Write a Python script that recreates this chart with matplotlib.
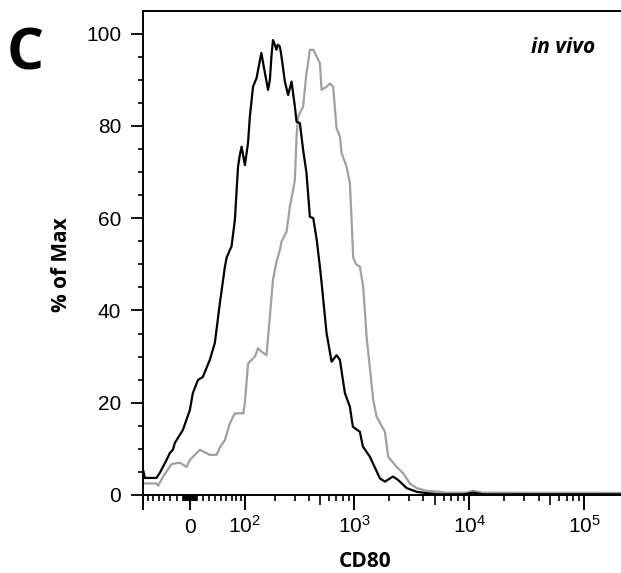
import numpy as np
import matplotlib
matplotlib.use("Agg")
import matplotlib.pyplot as plt
from matplotlib.ticker import FixedLocator

plt.rcParams['font.family'] = ['Liberation Sans', 'DejaVu Sans']
plt.rcParams['mathtext.fontset'] = 'custom'
plt.rcParams['mathtext.rm'] = 'Liberation Sans'
plt.rcParams['mathtext.it'] = 'Liberation Sans:italic'
plt.rcParams['mathtext.bf'] = 'Liberation Sans:bold'

# CD80 intensity vs % of max
cd80_black = [-80.5, -77.0, -60.1, -53.8, -47.8, -36.2, -30.8, -26.0, -22.8, -10.5,
              0.0, 4.5, 12.1, 19.7, 30.8, 39.1, 47.8, 56.9, 60.1, 66.6,
              69.9, 77.0, 84.0, 88.1, 92.2, 100.2, 108.3, 113.2, 122.1, 132.6,
              137.1, 147.7, 159.7, 171.4, 178.2, 184.3, 190.4, 198.4, 205.1, 211.6,
              220.7, 228.4, 245.1, 262.3, 281.6, 301.6, 312.1, 334.3, 357.3, 382.5,
              410.0, 438.9, 471.0, 502.1, 519.7, 574.5, 635.8, 702.5, 751.3, 830.7,
              918.5, 975.2, 1122, 1192, 1371, 1675, 1852, 2174, 2403, 2859,
              3492, 4266, 5565, 9000, 10770, 13155, 207000]
pct_black = [5.3, 3.7, 3.7, 3.7, 4.8, 7.6, 9.1, 9.8, 11.3, 14.1,
             18.4, 22.1, 24.9, 25.6, 29.3, 33.0, 41.6, 49.4, 51.4, 53.1,
             53.8, 59.6, 71.2, 73.7, 75.5, 71.5, 76.3, 82.0, 88.5, 90.4,
             92.1, 95.8, 91.5, 87.8, 90.0, 95.0, 98.6, 97.6, 96.5, 97.6,
             97.2, 95.0, 89.6, 86.7, 89.6, 84.2, 80.9, 80.6, 74.8, 69.8,
             60.3, 60.0, 55.3, 49.5, 46.0, 35.1, 28.9, 30.3, 29.3, 22.1,
             19.1, 14.8, 13.7, 10.5, 8.3, 3.6, 2.9, 4.0, 3.3, 1.5,
             0.7, 0.4, 0.15, 0.15, 0.5, 0.15, 0.15]

cd80_gray = [-80.5, -53.8, -50.8, -42.0, -28.1, -15.1, -4.95, 0.0, 15.1, 30.8,
             42.0, 47.8, 56.9, 66.6, 77.0, 96.3, 100.2, 108.3, 127.4, 137.1,
             147.7, 165.6, 178.2, 190.4, 205.1, 220.7, 228.4, 253.8, 272.0, 290.8,
             301.6, 312.1, 322.3, 357.3, 382.5, 395.0, 410.0, 438.9, 471.0, 502.1,
             519.7, 574.5, 614.4, 656.4, 702.5, 751.3, 777.4, 859.4, 918.5, 950.2,
             981.1, 1040, 1122, 1199, 1283, 1466, 1568, 1852, 1978, 2341,
             2671, 3054, 3492, 4266, 5565, 6364, 9500, 10770, 13155, 207000]
pct_gray = [2.5, 2.5, 2.0, 4.0, 6.7, 7.0, 6.1, 7.6, 9.8, 8.7,
            8.7, 10.3, 11.9, 15.5, 17.7, 17.7, 19.9, 28.5, 30.0, 31.8,
            31.1, 30.3, 38.7, 46.6, 50.5, 53.1, 54.9, 57.1, 62.5, 66.1,
            68.3, 77.7, 82.0, 84.2, 91.5, 93.6, 96.5, 96.5, 95.0, 93.6,
            87.8, 88.5, 89.2, 88.5, 79.5, 77.7, 74.1, 71.2, 67.6, 59.6,
            51.5, 50.0, 49.5, 45.2, 34.3, 20.6, 17.0, 13.7, 8.3, 6.1,
            4.7, 2.5, 1.5, 0.9, 0.7, 0.5, 0.5, 0.9, 0.5, 0.45]

x_major = [-81, 0, 100, 1000, 10000, 100000]
x_major_labels = ['', '0', '$10^{2}$', '$10^{3}$', '$10^{4}$', '$10^{5}$']
y_major = [0, 20, 40, 60, 80, 100]


# biexponential-like display (arcsinh)
def fwd(v):
    return np.arcsinh(np.asarray(v, dtype=float) / 75.0)


def inv(u):
    return 75.0 * np.sinh(np.asarray(u, dtype=float))


x_minor = []
for k in range(0, 5):
    for m in range(1, 10):
        x_minor.append(m * 10 ** k)
        if k < 2:
            x_minor.append(-m * 10 ** k)
x_minor = [t for t in x_minor if t not in x_major and not (t in (500, 5000, 50000))]
x_mid = [500, 5000, 50000]

fig = plt.figure(figsize=(6.21, 5.73), dpi=100)
ax = fig.add_axes([143 / 621, 78 / 573, 478 / 621, 484 / 573])

ax.plot(cd80_gray, pct_gray, color='#a0a0a0', lw=1.6, zorder=2)
ax.plot(cd80_black, pct_black, color='black', lw=1.6, zorder=3)

ax.set_xscale('function', functions=(fwd, inv))
ax.set_xlim(-81, 2.08e5)
ax.set_ylim(0, 104.9)

ax.xaxis.set_major_locator(FixedLocator(x_major))
ax.set_xticklabels(x_major_labels)
ax.xaxis.set_minor_locator(FixedLocator(x_minor))
ax.yaxis.set_major_locator(FixedLocator(y_major))
ax.yaxis.set_minor_locator(FixedLocator([5, 10, 15, 25, 30, 35, 45, 50, 55, 65, 70, 75, 85, 90, 95]))

ax.tick_params(axis='x', which='major', length=10.8, width=1.4, pad=16.5, labelsize=15)
ax.tick_params(axis='x', which='minor', length=4.3, width=1.2)
ax.tick_params(axis='y', which='major', length=8.6, width=1.3, pad=7, labelsize=15)
ax.tick_params(axis='y', which='minor', length=3.6, width=1.2)
for lbl in ax.get_xticklabels():
    lbl.set_verticalalignment('baseline')

ax.spines['right'].set_visible(False)
for s in ['left', 'bottom', 'top']:
    ax.spines[s].set_linewidth(1.4)

# medium ticks at 5 x 10^k
ax2 = ax.twiny()
ax2.set_xscale('function', functions=(fwd, inv))
ax2.set_xlim(ax.get_xlim())
ax2.xaxis.set_ticks_position('bottom')
ax2.xaxis.set_major_locator(FixedLocator(x_mid))
ax2.xaxis.set_minor_locator(FixedLocator([]))
ax2.tick_params(axis='x', which='major', length=7.2, width=1.2,
                labelbottom=False, labeltop=False)
for s in ax2.spines.values():
    s.set_visible(False)
ax2.patch.set_visible(False)

ax.set_xlabel('CD80', family='Open Sans', fontweight='bold', fontsize=15, va='baseline')
ax.xaxis.set_label_coords(0.464, -0.149)
ax.set_ylabel('% of Max', family='Open Sans', fontweight='bold', fontsize=15,
              va='center', ha='center')
ax.yaxis.set_label_coords(-0.1715, 0.477)

fig.text(6.5 / 621, 1 - 70 / 573, 'C', family='Open Sans', fontweight='bold',
         fontsize=42, ha='left', va='baseline')
fig.text(563 / 621, 1 - 53 / 573, 'in vivo', family='Open Sans', fontweight='bold',
         style='italic', fontsize=15, ha='center', va='baseline')

fig.savefig('out.png', dpi=100)
